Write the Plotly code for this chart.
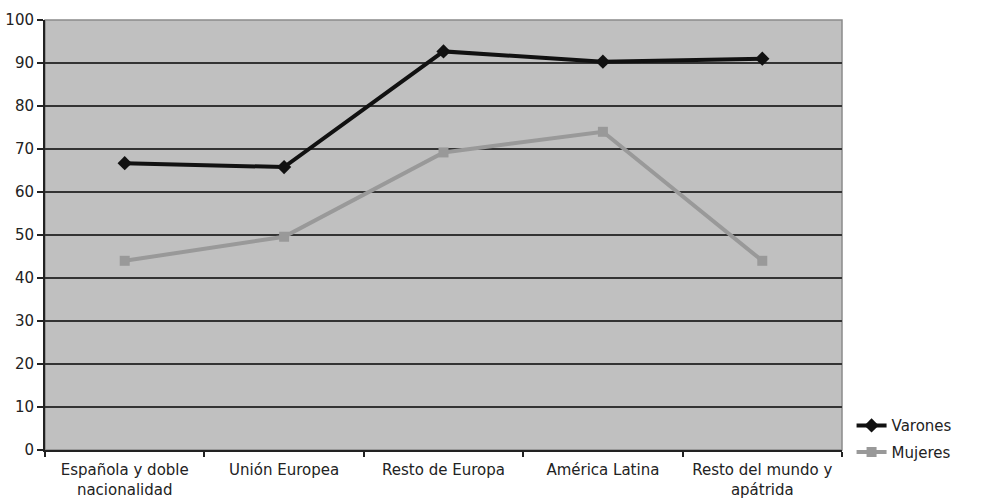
import plotly.graph_objects as go

categories = ["Española y doble<br>nacionalidad", "Unión Europea", "Resto de Europa",
              "América Latina", "Resto del mundo y<br>apátrida"]
varones = [66.7, 65.8, 92.7, 90.3, 91.0]
mujeres = [44.0, 49.6, 69.2, 74.0, 44.0]
y_ticks = [0, 10, 20, 30, 40, 50, 60, 70, 80, 90, 100]

font = dict(family="DejaVu Sans", size=15, color="#222222")

fig = go.Figure()
fig.add_trace(go.Scatter(
    x=categories, y=varones, name="Varones", mode="lines+markers",
    line=dict(color="#111111", width=4),
    marker=dict(symbol="diamond", size=11, color="#111111"),
    legendgroup="v",
))
fig.add_trace(go.Scatter(
    x=categories, y=mujeres, name="Mujeres", mode="lines+markers",
    line=dict(color="#999999", width=4),
    marker=dict(symbol="square", size=10, color="#999999"),
    legendgroup="m",
))

# light grey frame around the plot area (top and right edges)
fig.add_shape(type="rect", xref="paper", yref="paper", x0=0, y0=0, x1=1, y1=1,
              line=dict(color="#8a8a8a", width=1.5), layer="below")

fig.update_layout(
    width=988, height=499,
    margin=dict(l=45, r=146, t=20, b=49, autoexpand=False),
    paper_bgcolor="white", plot_bgcolor="#c0c0c0",
    font=font,
    showlegend=True,
    legend=dict(x=1.012, xanchor="left", y=0.095, yanchor="top",
                traceorder="grouped", tracegroupgap=4,
                font=dict(family="DejaVu Sans", size=15, color="#222222"),
                bgcolor="rgba(0,0,0,0)", itemwidth=30),
)
fig.update_xaxes(
    type="category", range=[-0.5, 4.5], tickson="boundaries",
    ticks="outside", ticklen=5, tickcolor="#222222", tickwidth=1.5,
    showline=True, linecolor="#222222", linewidth=2,
    showgrid=False, tickfont=font, ticklabelstandoff=5, automargin=False,
)
fig.update_yaxes(
    range=[0, 100], tickvals=y_ticks, ticks="outside", ticklen=6,
    tickcolor="#222222", tickwidth=1.5,
    showline=True, linecolor="#222222", linewidth=2,
    showgrid=True, gridcolor="#333333", gridwidth=1.5,
    zeroline=False, tickfont=font, automargin=False,
)

fig.write_html("out.html")
